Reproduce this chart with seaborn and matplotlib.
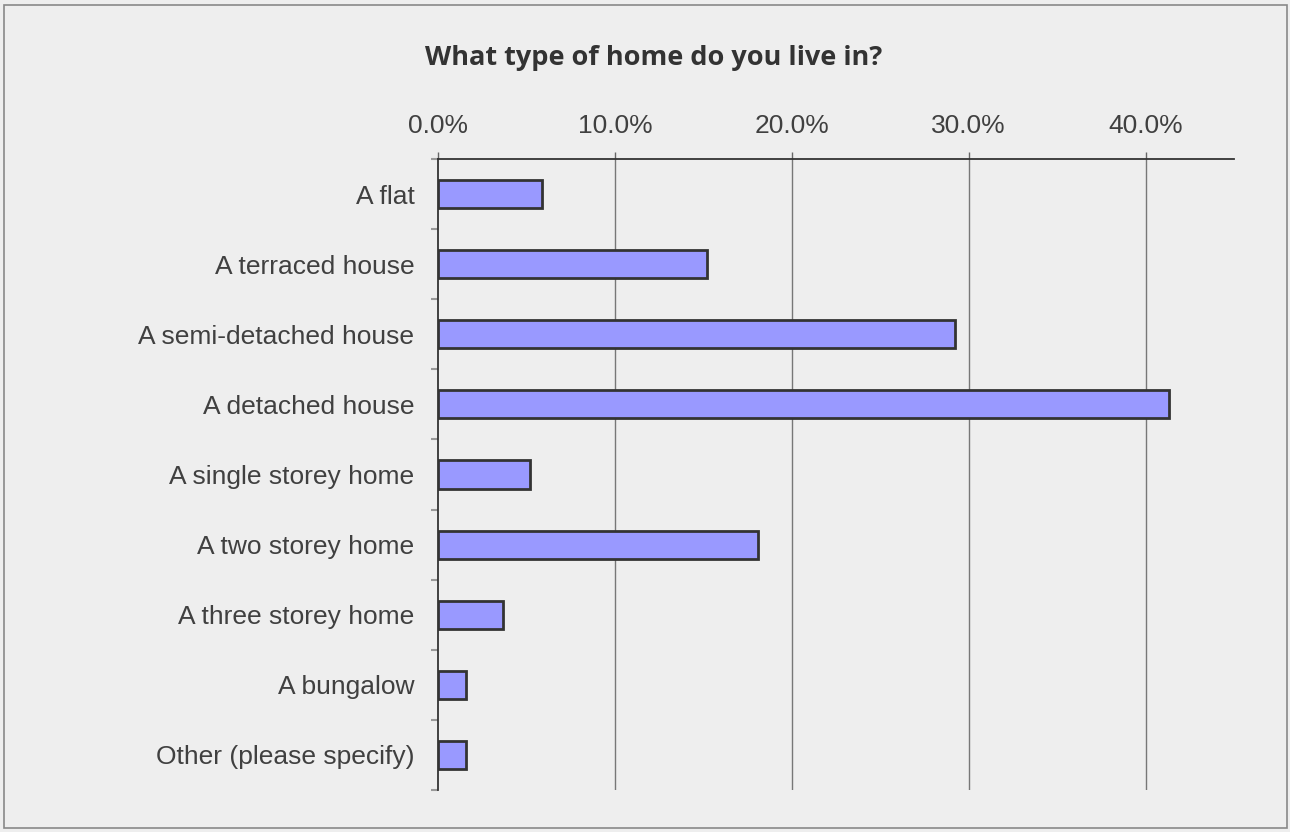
import matplotlib
matplotlib.use('Agg')
import numpy as np
import pandas as pd
import matplotlib.pyplot as plt
import seaborn as sns
from matplotlib.patches import Rectangle
from matplotlib.ticker import FuncFormatter

# 数据
categories = ['A flat', 'A terraced house', 'A semi-detached house', 'A detached house',
              'A single storey home', 'A two storey home', 'A three storey home',
              'A bungalow', 'Other (please specify)']
percent = [5.9, 15.2, 29.2, 41.3, 5.2, 18.1, 3.7, 1.6, 1.6]
x_ticks = [0, 10, 20, 30, 40]

sns.set_theme(style='white')
plt.rcParams['font.family'] = ['Liberation Sans', 'DejaVu Sans']

df = pd.DataFrame({'type': categories, 'pct': percent})

fig = plt.figure(figsize=(12.9, 8.32), dpi=100, facecolor='#eeeeee')
ax = fig.add_axes([438 / 1290, 1 - 790 / 832, (1234 - 438) / 1290, (790 - 159) / 832])
ax.set_facecolor('#eeeeee')

sns.barplot(data=df, x='pct', y='type', orient='h', color='#9999ff',
            edgecolor='#333333', linewidth=2, width=0.4, saturation=1, ax=ax)

ax.set_xlim(0, 45)
ax.set_ylim(len(categories) - 0.5, -0.5)
ax.set_xlabel('')
ax.set_ylabel('')

# 横轴放在顶部
ax.xaxis.set_ticks_position('top')
ax.xaxis.set_label_position('top')
ax.set_xticks(x_ticks)
ax.xaxis.set_major_formatter(FuncFormatter(lambda v, p: f'{v:.1f}%'))
ax.tick_params(axis='x', which='major', direction='out', length=5, width=1,
               color='#666666', labelsize=19, labelcolor='#404040', pad=10, top=True, bottom=False)
for v in x_ticks[1:]:
    ax.axvline(v, color='#777777', lw=1, zorder=0)

# 纵轴刻度在类别之间
ax.set_yticks(np.arange(len(categories)))
ax.set_yticks(np.arange(len(categories) + 1) - 0.5, minor=True)
ax.tick_params(axis='y', which='major', length=0, labelsize=19, labelcolor='#404040', pad=17)
ax.tick_params(axis='y', which='minor', direction='out', length=5, width=1.5,
               color='#999999', left=True)

for s in ['bottom', 'right']:
    ax.spines[s].set_visible(False)
ax.spines['top'].set_color('#333333')
ax.spines['left'].set_color('#333333')
ax.spines['top'].set_linewidth(1.3)
ax.spines['left'].set_linewidth(1.3)

fig.text(0.507, 1 - 58 / 832, 'What type of home do you live in?', ha='center', va='center',
         fontsize=19.5, fontweight='bold', color='#333333', family=['Open Sans', 'DejaVu Sans'])

# 外边框
fig.patches.append(Rectangle((4 / 1290, 4 / 832), 1283 / 1290, 823 / 832, transform=fig.transFigure,
                             fill=False, edgecolor='#888888', lw=1.2))

fig.savefig('out.png', dpi=100, facecolor=fig.get_facecolor())
